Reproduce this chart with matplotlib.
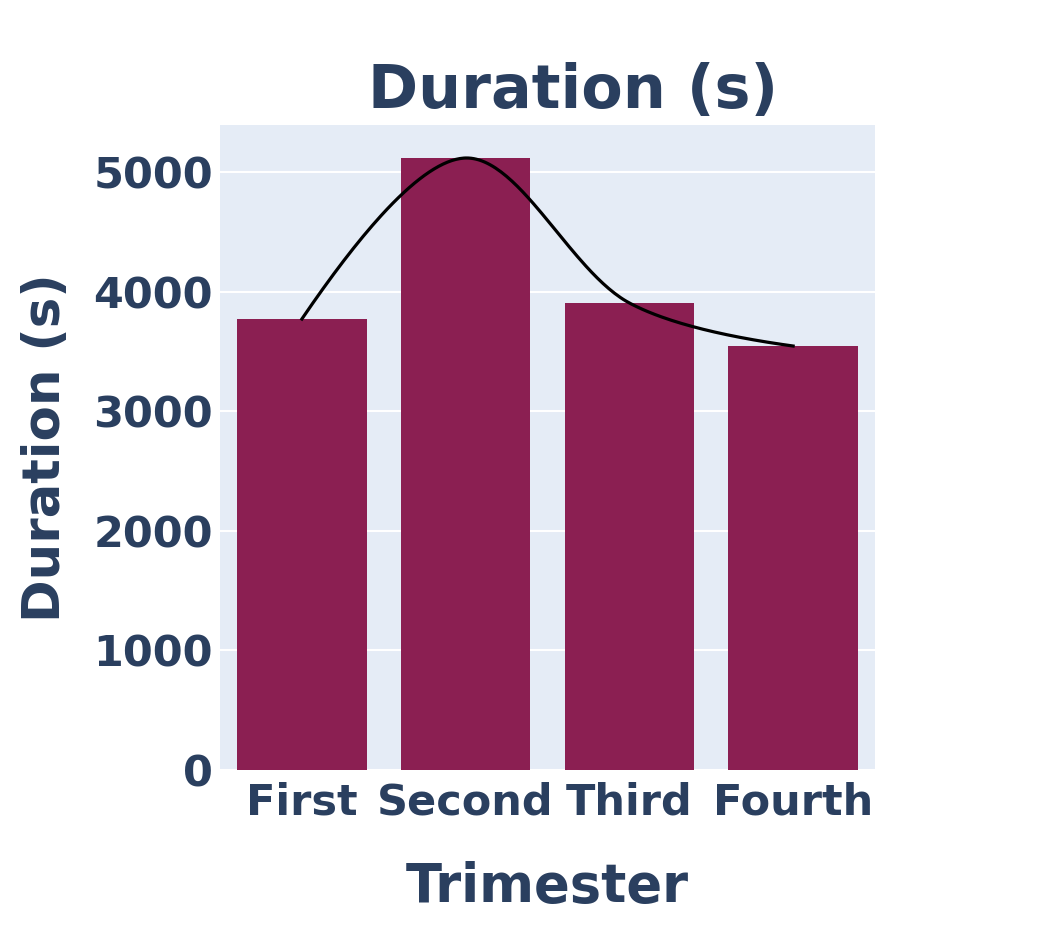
import numpy as np
import matplotlib
matplotlib.use("Agg")
import matplotlib.pyplot as plt

categories = ["First", "Second", "Third", "Fourth"]
durations = [3771, 5117, 3905, 3545]
y_ticks = [0, 1000, 2000, 3000, 4000, 5000]

TEXT = "#2a3f5f"
BAR = "#8b1f52"
BG = "#e5ecf6"
FONT = "DejaVu Sans"

fig = plt.figure(figsize=(10.42, 9.39), dpi=100)
ax = fig.add_axes([220/1042, 1 - 770/939, 655/1042, 645/939])
ax.set_facecolor(BG)
x = np.arange(len(categories))
ax.bar(x, durations, width=0.79, color=BAR, zorder=2)
ax.set_xlim(-0.5, 3.5)
ax.set_ylim(0, 5393)
ax.set_yticks(y_ticks)
ax.set_xticks(x)
ax.set_xticklabels(categories)
ax.grid(axis="y", color="white", linewidth=1.5, zorder=1)
ax.set_axisbelow(True)
for s in ax.spines.values():
    s.set_visible(False)
ax.tick_params(axis="y", length=0, pad=5, labelcolor=TEXT)
ax.tick_params(axis="x", length=0, pad=8, labelcolor=TEXT)
for lab in ax.get_xticklabels() + ax.get_yticklabels():
    lab.set_fontfamily(FONT)
    lab.set_fontweight("bold")
    lab.set_fontsize(31)

# plotly-style spline through the points, computed in display space
pts = ax.transData.transform(np.column_stack([x, durations]))
def tangent(p0, p1, p2, s=1.0):
    d1 = p0 - p1
    d2 = p2 - p1
    d1a = np.hypot(*d1) ** 0.5
    d2a = np.hypot(*d2) ** 0.5
    num = (d2a * d2a * d1 - d1a * d1a * d2) * s
    den1 = 3 * d2a * (d1a + d2a)
    den2 = 3 * d1a * (d1a + d2a)
    return p1 + num / den1, p1 - num / den2
tans = [tangent(pts[i - 1], pts[i], pts[i + 1]) for i in range(1, len(pts) - 1)]
tt = np.linspace(0, 1, 60)[:, None]
def quad(a, c, b):
    return (1 - tt) ** 2 * a + 2 * (1 - tt) * tt * c + tt ** 2 * b
def cubic(a, c1, c2, b):
    return (1 - tt) ** 3 * a + 3 * (1 - tt) ** 2 * tt * c1 + 3 * (1 - tt) * tt ** 2 * c2 + tt ** 3 * b
segs = [quad(pts[0], tans[0][0], pts[1])]
for i in range(2, len(pts) - 1):
    segs.append(cubic(pts[i - 1], tans[i - 2][1], tans[i - 1][0], pts[i]))
segs.append(quad(pts[-2], tans[-1][1], pts[-1]))
curve = ax.transData.inverted().transform(np.vstack(segs))
ax.plot(curve[:, 0], curve[:, 1], color="black", linewidth=2.3, zorder=3)

ax.set_xlabel("Trimester", fontsize=38, fontweight="bold", color=TEXT, fontfamily=FONT, labelpad=27)
ax.set_ylabel("Duration (s)", fontsize=37, fontweight="bold", color=TEXT, fontfamily=FONT, labelpad=16)
fig.text(573/1042, 1 - 92/939, "Duration (s)", fontsize=43.5, fontweight="bold", color=TEXT,
         fontfamily=FONT, ha="center", va="center")

fig.savefig("out.png", dpi=100, facecolor="white")
